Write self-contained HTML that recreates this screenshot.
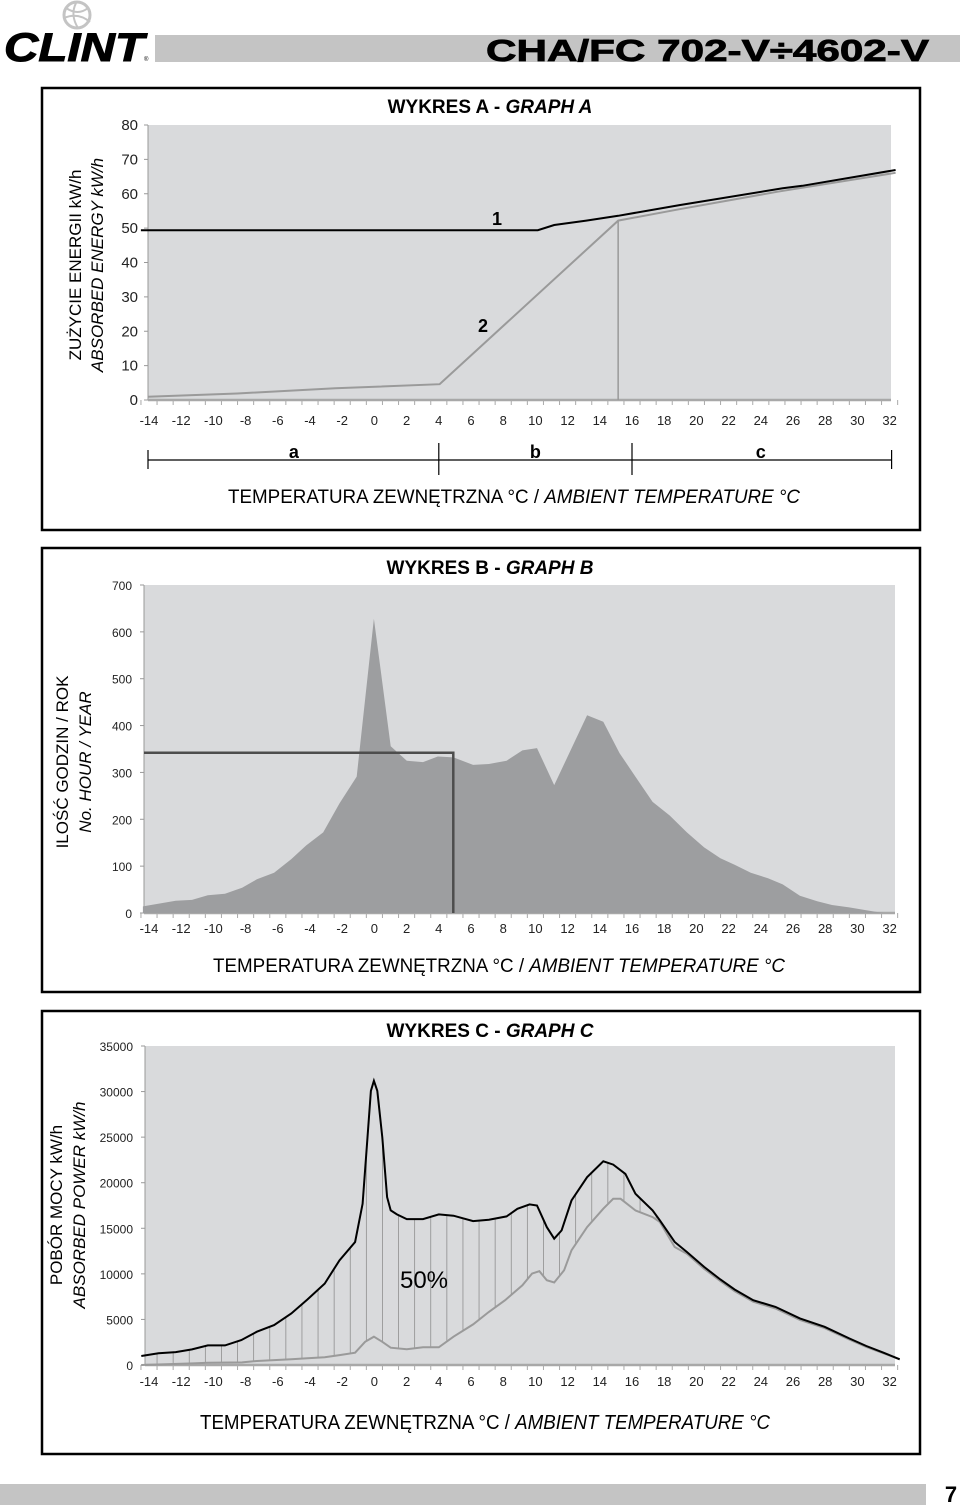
<!DOCTYPE html>
<html><head><meta charset="utf-8"><style>
html,body{margin:0;padding:0;background:#fff;}
svg{display:block;font-family:"Liberation Sans",sans-serif;}
</style></head><body>
<svg id="page" width="960" height="1507" viewBox="0 0 960 1507" xmlns="http://www.w3.org/2000/svg">
<g id="header">
  <circle cx="77" cy="15" r="13" fill="none" stroke="#c4c4c4" stroke-width="3"/>
  <path d="M66 8 Q78 16 88 8 M64 18 Q78 12 90 22 M76 3 Q70 15 78 28" fill="none" stroke="#c4c4c4" stroke-width="2"/>
  <text x="4" y="61" font-size="40" font-weight="bold" font-style="italic" textLength="140" lengthAdjust="spacingAndGlyphs" stroke="#000" stroke-width="1">CLINT</text>
  <text x="144" y="61" font-size="6">®</text>
  <rect x="155" y="35" width="805" height="27" fill="#c4c4c4"/>
  <text x="486" y="61" font-size="31" font-weight="bold" textLength="443" lengthAdjust="spacingAndGlyphs" stroke="#000" stroke-width="0.8">CHA/FC  702-V÷4602-V</text>
</g>
<rect x="0" y="1484" width="926" height="21" fill="#c4c4c4"/>
<text x="951" y="1502" font-size="22" font-weight="bold" text-anchor="middle">7</text>
<g id="charts"></g>
</svg>
<script>
// ---- Graph A data ----
const aLine1T = [-14.5, 10.15, 11.17, 13.16, 15.14, 18.95, 25.36, 26.58, 32.37];
const aLine1V = [49.4, 49.4, 50.9, 52.2, 53.6, 56.7, 61.6, 62.3, 66.9];
const aLine2T = [-14.07, -8.52, -2.42, 4.05, 15.14, 18.95, 25.05, 32.37];
const aLine2V = [0.97, 1.9, 3.4, 4.6, 52.2, 55.5, 60.6, 66.1];
const aYTicks = [0, 10, 20, 30, 40, 50, 60, 70, 80];
const xTickLabels = [-14,-12,-10,-8,-6,-4,-2,0,2,4,6,8,10,12,14,16,18,20,22,24,26,28,30,32];
const aRanges = ['a', 'b', 'c'];
const aRangeBounds = [-14, 4, 16, 32];
// ---- Graph B data ----
const bTemps = [-14.38,-12.34,-11.33,-10.35,-9.28,-8.22,-7.3,-6.23,-5.16,-4.24,-3.18,-2.17,-1.1,-0.03,1.01,2.01,3.02,3.94,4.91,6.13,7.11,8.21,9.19,10.1,11.17,13.21,14.22,15.23,16.21,17.28,18.34,19.41,20.48,21.49,22.37,23.38,24.45,25.36,26.43,27.5,28.42,29.49,30.55,31.6,32.5];
const bHours = [14,26,28,38,41,54,72,86,115,144,172,234,291,628,356,325,322,334,332,316,318,325,347,352,273,422,408,341,291,237,208,172,140,117,103,86,74,61,37,25,17,12,6,0,0];
const bYTicks = [0,100,200,300,400,500,600,700];
const bBivalentT = 4.9;
const bBivalentV = 342;
// ---- Graph C data ----
const cBlackT = [-14.48,-13.41,-12.34,-11.33,-10.35,-9.28,-8.27,-7.3,-6.23,-5.16,-4.16,-3.09,-2.17,-1.2,-0.73,-0.43,-0.22,-0.03,0.18,0.49,0.79,1.01,1.4,2.01,3.02,4.0,4.91,6.13,7.11,8.21,8.88,9.64,10.1,10.71,11.17,11.63,12.24,13.21,14.22,14.83,15.59,16.21,17.28,17.73,18.65,19.41,20.48,21.49,22.37,23.53,24.91,26.43,27.96,29.49,30.55,31.62,32.63];
const cBlackV = [985,1280,1420,1715,2150,2150,2735,3650,4375,5650,7185,8935,11490,13490,17690,24980,30090,31180,30090,24980,18420,16960,16520,16010,16010,16520,16380,15790,15940,16300,17140,17620,17500,15130,13860,14770,18050,20600,22350,21990,20970,18790,16960,15860,13490,12400,10760,9380,8280,7110,6380,5110,4190,2920,2080,1350,620];
const cGrayT = [-14.48,-11.27,-10.35,-8.22,-7.3,-5.16,-4.16,-3.09,-2.17,-1.2,-0.58,-0.03,0.49,1.01,2.01,3.02,4.0,4.91,6.13,7.11,8.12,9.19,9.79,10.25,10.71,11.17,11.78,12.24,13.21,14.22,14.83,15.29,16.21,17.28,17.73,18.65,19.41,20.48,21.49,22.37,23.53,24.91,26.43,27.96,29.49,30.55,31.62,32.63];
const cGrayV = [0,180,250,290,440,620,730,840,1090,1350,2550,3100,2550,1900,1720,1940,1940,3100,4450,5830,7110,8750,10030,10290,9300,9050,10390,12580,15130,17150,18240,18240,16960,16230,15680,12950,12200,10550,9200,8100,6950,6200,4950,4050,2800,1980,1280,620];
const cYTicks = [0,5000,10000,15000,20000,25000,30000,35000];
const cHatchStart = -13.5, cHatchEnd = 17.5;

const NS = 'http://www.w3.org/2000/svg';
const root = document.getElementById('charts');
function mk(tag, attrs, parent, text) {
  const e = document.createElementNS(NS, tag);
  for (const k in attrs) e.setAttribute(k, attrs[k]);
  if (text !== undefined) e.textContent = text;
  (parent || root).appendChild(e);
  return e;
}
function xS(t) { return 149 + (t + 14) * 16.1; }
function yScale(top, bottom, max) { return v => bottom - v / max * (bottom - top); }
function pts(ts, vs, y) { return ts.map((t, i) => xS(t).toFixed(1) + ',' + y(vs[i]).toFixed(1)).join(' '); }
function interp(ts, vs, t) {
  if (t <= ts[0]) return vs[0];
  for (let i = 1; i < ts.length; i++) if (t <= ts[i]) { const f = (t - ts[i-1]) / (ts[i] - ts[i-1]); return vs[i-1] + f * (vs[i] - vs[i-1]); }
  return vs[vs.length - 1];
}

function frame(g, name, box, plot, title, yTicks, y, tickFont, labelY, yTitles, axisTitle, yLabelGap) {
  const p = mk('rect', {x: box[0], y: box[1], width: box[2], height: box[3], fill: '#fff', stroke: '#000', 'stroke-width': 2.5}, g);
  
  
  const bg = mk('rect', {x: plot[0], y: plot[1], width: plot[2] - plot[0], height: plot[3] - plot[1], fill: '#d9dadc'}, g);
  
  
  const tt = mk('text', {x: 490, y: title[1], 'font-size': 19, 'font-weight': 'bold', 'text-anchor': 'middle'}, g);
  
  
  mk('tspan', {}, tt, title[0] + ' - ');
  mk('tspan', {'font-style': 'italic'}, tt, title[2]);
  mk('line', {x1: plot[0], y1: plot[1], x2: plot[0], y2: plot[3], stroke: '#999', 'stroke-width': 1}, g);
  yTicks.forEach(v => {
    mk('line', {x1: plot[0] - 4, y1: y(v), x2: plot[0], y2: y(v), stroke: '#999'}, g);
    const l = mk('text', {x: plot[0] - yLabelGap, y: y(v) + 5, 'font-size': tickFont, 'text-anchor': 'end', fill: '#222'}, g, String(v));
    
    
  });
  mk('line', {x1: plot[0], y1: plot[3], x2: plot[2], y2: plot[3], stroke: '#a8a8a8', 'stroke-width': 2.5}, g);
  for (let t = -14.5; t <= 32.6; t += 1) mk('line', {x1: xS(t), y1: plot[3], x2: xS(t), y2: plot[3] + 5, stroke: '#aaa'}, g);
  xTickLabels.forEach(t => {
    const l = mk('text', {x: xS(t), y: labelY, 'font-size': 13, 'text-anchor': 'middle', fill: '#222'}, g, String(t));
    
    
  });
  yTitles.forEach(([txt, x, cy, italic]) => {
    const l = mk('text', {x: x, y: cy, 'font-size': 17, 'text-anchor': 'middle', transform: `rotate(-90 ${x} ${cy})`, 'font-style': italic ? 'italic' : 'normal'}, g, txt);
    
    
  });
  const at = mk('text', {x: axisTitle[0], y: axisTitle[1], 'font-size': axisTitle[2], 'text-anchor': 'middle', textLength: axisTitle[3], lengthAdjust: 'spacingAndGlyphs'}, g);
  
  
  mk('tspan', {}, at, 'TEMPERATURA ZEWNĘTRZNA °C / ');
  mk('tspan', {'font-style': 'italic'}, at, 'AMBIENT TEMPERATURE °C');
}

// ---- Graph A ----
const gA = mk('g', {});


const yA = yScale(125, 400, 80);
frame(gA, 'graph-a', [42, 88, 878, 442], [148, 125, 891, 400], ['WYKRES A', 113, 'GRAPH A'], aYTicks, yA, 15, 425,
  [['ZUŻYCIE ENERGII kW/h', 81, 265, false], ['ABSORBED ENERGY kW/h', 103, 265, true]], [514, 503, 19, 572], 10);
const vA = mk('line', {x1: xS(aLine2T[4]), y1: yA(aLine2V[4]), x2: xS(aLine2T[4]), y2: yA(0), stroke: '#999', 'stroke-width': 1.5}, gA);


const l2 = mk('polyline', {points: pts(aLine2T, aLine2V, yA), fill: 'none', stroke: '#9a9a9a', 'stroke-width': 2}, gA);


const l1 = mk('polyline', {points: pts(aLine1T, aLine1V, yA), fill: 'none', stroke: '#000', 'stroke-width': 2}, gA);


const lab1 = mk('text', {x: 497, y: 225, 'font-size': 18, 'font-weight': 'bold', 'text-anchor': 'middle'}, gA, '1');


const lab2 = mk('text', {x: 483, y: 332, 'font-size': 18, 'font-weight': 'bold', 'text-anchor': 'middle'}, gA, '2');


mk('line', {x1: xS(aRangeBounds[0]) - 1, y1: 460, x2: xS(aRangeBounds[3]) + 2, y2: 460, stroke: '#000', 'stroke-width': 1.2}, gA);
aRangeBounds.forEach((b, i) => {
  const inner = i > 0 && i < 3;
  mk('line', {x1: xS(b) + (i === 0 ? -1 : i === 3 ? 2 : 0), y1: inner ? 443 : 450, x2: xS(b) + (i === 0 ? -1 : i === 3 ? 2 : 0), y2: inner ? 475 : 469, stroke: '#000', 'stroke-width': 1.2}, gA);
});
aRanges.forEach((r, i) => {
  const l = mk('text', {x: (xS(aRangeBounds[i]) + xS(aRangeBounds[i+1])) / 2, y: 458, 'font-size': 18, 'font-weight': 'bold', 'text-anchor': 'middle'}, gA, r);
  
  
});

// ---- Graph B ----
const gB = mk('g', {});


const yB = yScale(585, 913, 700);
frame(gB, 'graph-b', [42, 548, 878, 444], [144, 585, 895, 913], ['WYKRES B', 574, 'GRAPH B'], bYTicks, yB, 12, 933,
  [['ILOŚĆ GODZIN / ROK', 68, 762, false], ['No. HOUR / YEAR', 91, 762, true]], [499, 972, 19, 572], 12);
const area = mk('polygon', {points: xS(bTemps[0]).toFixed(1) + ',' + yB(0) + ' ' + pts(bTemps, bHours, yB) + ' ' + xS(bTemps[bTemps.length-1]).toFixed(1) + ',' + yB(0), fill: '#9d9ea0'}, gB);


const biv = mk('polyline', {points: `144,${yB(bBivalentV)} ${xS(bBivalentT)},${yB(bBivalentV)} ${xS(bBivalentT)},${yB(0)}`, fill: 'none', stroke: '#4d4d4d', 'stroke-width': 2.5}, gB);



// ---- Graph C ----
const gC = mk('g', {});


const yC = yScale(1046, 1365, 35000);
frame(gC, 'graph-c', [42, 1011, 878, 443], [145, 1046, 895, 1365], ['WYKRES C', 1037, 'GRAPH C'], cYTicks, yC, 12, 1386,
  [['POBÓR MOCY kW/h', 62, 1205, false], ['ABSORBED POWER kW/h', 85, 1205, true]], [485, 1429, 20, 570], 12);
for (let t = cHatchStart; t <= cHatchEnd; t += 1) {
  const h = mk('line', {x1: xS(t), y1: yC(interp(cGrayT, cGrayV, t)), x2: xS(t), y2: yC(interp(cBlackT, cBlackV, t)), stroke: '#8f8f8f', 'stroke-width': 0.8}, gC);
  
  
}
const cg = mk('polyline', {points: pts(cGrayT, cGrayV, yC), fill: 'none', stroke: '#9a9a9a', 'stroke-width': 2}, gC);


const cb = mk('polyline', {points: pts(cBlackT, cBlackV, yC), fill: 'none', stroke: '#000', 'stroke-width': 2}, gC);


const pct = mk('text', {x: 424, y: 1288, 'font-size': 24, 'text-anchor': 'middle'}, gC, '50%');


</script>
</body></html>
